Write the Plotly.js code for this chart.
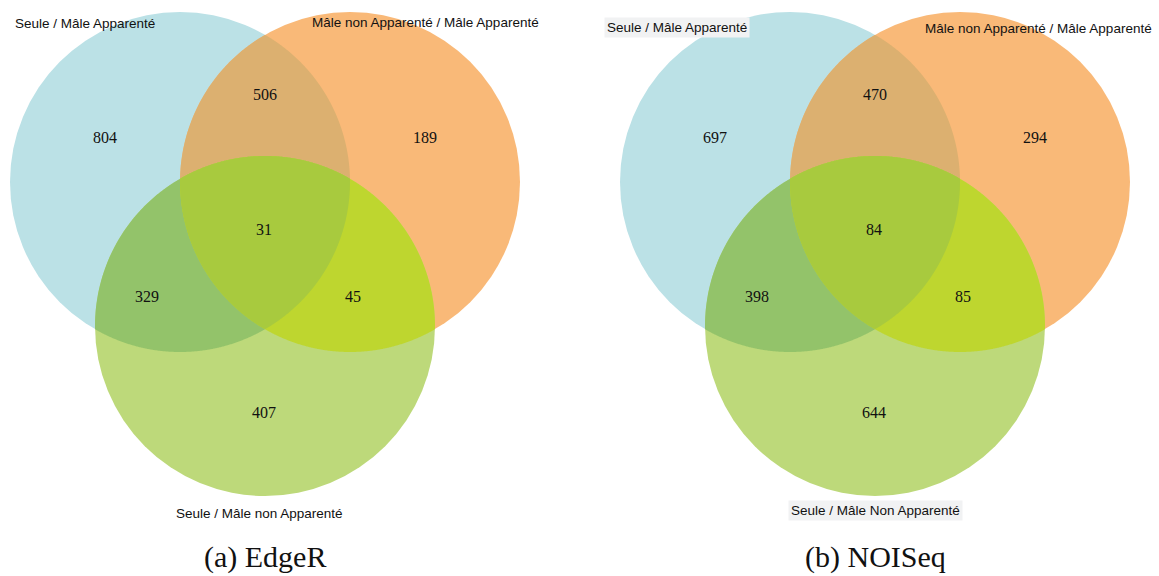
<!DOCTYPE html>
<html>
<head>
<meta charset="utf-8">
<script src="https://cdn.plot.ly/plotly-3.0.1.min.js"></script>
<style>html,body{margin:0;padding:0;background:#fff;}#chart{width:1159px;height:576px;}</style>
</head>
<body>
<div id="chart"></div>
<script>
// Region order: A only, A∩B, B only, A∩B∩C, A∩C, B∩C, C only
const regions = ["A", "AB", "B", "ABC", "AC", "BC", "C"];
const edgeRCounts = [804, 506, 189, 31, 329, 45, 407];
const noiseqCounts = [697, 470, 294, 84, 398, 85, 644];
const edgeRSets = ["Seule / Mâle Apparenté", "Mâle non Apparenté / Mâle Apparenté", "Seule / Mâle non Apparenté"];
const noiseqSets = ["Seule / Mâle Apparenté", "Mâle non Apparenté / Mâle Apparenté", "Seule / Mâle Non Apparenté"];
const captions = ["(a) EdgeR", "(b) NOISeq"];

// Layout geometry (positions / styles, not data)
const panelOffsets = [0, 610];
const circleCenters = {A: [180, 182], B: [350, 182], C: [265, 326]};
const radius = 170;
const regionColors = {A: "#bbe1e6", B: "#f9b978", C: "#bdd97a",
  AB: "#dcb070", AC: "#93c36a", BC: "#bed62f", ABC: "#a8ca3e"};
const regionPos = {A: [105, 139], AB: [265, 96], B: [425, 139], ABC: [264, 231], AC: [147, 298], BC: [353, 298], C: [264, 414]};

// Boundary path of the intersection of a set of circles (convex), sampled along arcs
function intersectionPath(keys, off) {
  const pts = [];
  const N = 1440;
  keys.forEach(k => {
    const c = circleCenters[k];
    for (let i = 0; i < N; i++) {
      const t = 2 * Math.PI * i / N;
      const x = c[0] + off + radius * Math.cos(t), y = c[1] + radius * Math.sin(t);
      const inside = keys.every(o => {
        if (o === k) return true;
        const d = circleCenters[o];
        return Math.hypot(x - d[0] - off, y - d[1]) <= radius + 1e-6;
      });
      if (inside) pts.push([x, y]);
    }
  });
  let cx = 0, cy = 0;
  pts.forEach(p => { cx += p[0]; cy += p[1]; });
  cx /= pts.length; cy /= pts.length;
  pts.sort((p, q) => Math.atan2(p[1] - cy, p[0] - cx) - Math.atan2(q[1] - cy, q[0] - cx));
  return "M" + pts.map(p => p[0].toFixed(2) + "," + p[1].toFixed(2)).join("L") + "Z";
}

const shapes = [];
const traces = [];
const annotations = [];
const panels = [edgeRCounts, noiseqCounts];
const panelSets = [edgeRSets, noiseqSets];
const labelFont = {family: "Liberation Sans", size: 13.5, color: "#111"};

panels.forEach((counts, p) => {
  const off = panelOffsets[p];
  ["A", "B", "C"].forEach(k => {
    const c = circleCenters[k];
    shapes.push({type: "circle", xref: "x", yref: "y", layer: "below",
      x0: c[0] + off - radius, x1: c[0] + off + radius,
      y0: c[1] - radius, y1: c[1] + radius,
      fillcolor: regionColors[k], line: {width: 0}});
  });
  ["AB", "AC", "BC", "ABC"].forEach(key => {
    shapes.push({type: "path", xref: "x", yref: "y", layer: "below",
      path: intersectionPath(key.split(""), off),
      fillcolor: regionColors[key], line: {width: 0}});
  });
  traces.push({type: "scatter", mode: "text",
    x: regions.map(r => regionPos[r][0] + off),
    y: regions.map(r => regionPos[r][1]),
    text: counts.map(String),
    textposition: "middle center",
    textfont: {family: "Liberation Serif", size: 16, color: "#111"},
    hoverinfo: "skip", showlegend: false});
  const sets = panelSets[p];
  const bg = p === 1 ? "#f1f2f3" : "rgba(0,0,0,0)";
  annotations.push({x: p ? 604 : 12, y: p ? 27 : 23, xref: "x", yref: "y", xanchor: "left", yanchor: "middle",
    text: sets[0], showarrow: false, bgcolor: bg, borderpad: 2, font: labelFont});
  annotations.push({x: p ? 1153 : 540, y: p ? 28 : 22, xref: "x", yref: "y", xanchor: "right", yanchor: "middle",
    text: sets[1], showarrow: false, borderpad: 0, font: labelFont});
  annotations.push({x: p ? 875 : 259, y: p ? 510 : 513, xref: "x", yref: "y", xanchor: "center", yanchor: "middle",
    text: sets[2], showarrow: false, bgcolor: bg, borderpad: 2, font: labelFont});
  annotations.push({x: 265 + off, y: 557, xref: "x", yref: "y", xanchor: "center", yanchor: "middle",
    text: captions[p], showarrow: false, borderpad: 0,
    font: {family: "Liberation Serif", size: 30, color: "#111"}});
});

const layout = {
  width: 1159, height: 576,
  margin: {l: 0, r: 0, t: 0, b: 0},
  paper_bgcolor: "#fff", plot_bgcolor: "#fff",
  xaxis: {range: [0, 1159], visible: false, fixedrange: true},
  yaxis: {range: [576, 0], visible: false, fixedrange: true},
  shapes: shapes, annotations: annotations, showlegend: false
};
Plotly.newPlot("chart", traces, layout, {staticPlot: true, displayModeBar: false});
</script>
</body>
</html>
